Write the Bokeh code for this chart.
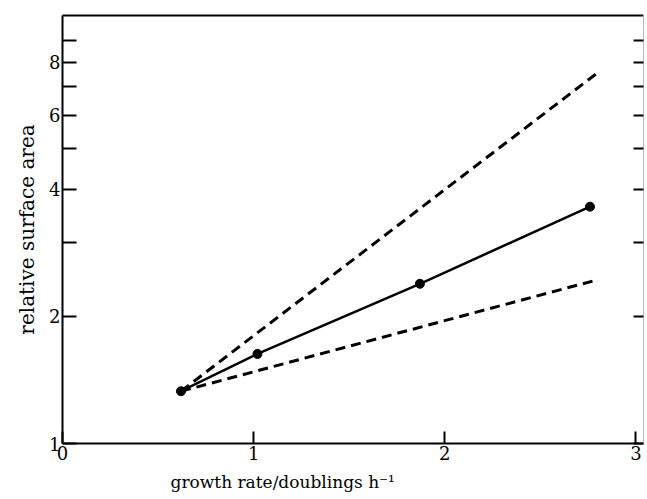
from bokeh.plotting import figure
from bokeh.models import (LogAxis, LinearAxis, FixedTicker, Range1d, Title)
from bokeh.embed import file_html
from bokeh.resources import INLINE

# data
growth = [0.62, 1.02, 1.87, 2.76]
area = [1.33, 1.63, 2.39, 3.64]
upper_x = [0.62, 2.79]
upper_y = [1.33, 7.5]
lower_x = [0.62, 2.78]
lower_y = [1.33, 2.43]
y_labelled = [1, 2, 4, 6, 8]
y_unlabelled = [3, 5, 7, 9]
y_all = [1, 2, 3, 4, 5, 6, 7, 8, 9]
x_ticks = [0, 1, 2, 3]

FONT = "DejaVu Serif"

p = figure(width=647, height=499, output_backend="svg", toolbar_location=None,
           y_axis_type="log", x_range=Range1d(0, 3.04), y_range=Range1d(1, 10.33),
           min_border_left=62, min_border_right=4, min_border_top=15, min_border_bottom=56,
           x_axis_location=None, y_axis_location=None)
p.grid.visible = False
p.outline_line_color = None
p.background_fill_color = "white"
p.border_fill_color = "white"

# left axis
la = LogAxis(ticker=FixedTicker(ticks=y_labelled, minor_ticks=y_unlabelled),
             axis_label="relative surface area")
la.major_tick_in = 14
la.major_tick_out = 0
la.minor_tick_in = 14
la.minor_tick_out = 0
la.axis_line_width = 2
la.major_tick_line_width = 2
la.minor_tick_line_width = 2
la.major_label_text_font = FONT
la.major_label_text_font_size = "18px"
la.major_label_text_color = "black"
la.major_label_standoff = 2
la.axis_label_text_font = FONT
la.axis_label_text_font_size = "20px"
la.axis_label_text_font_style = "normal"
la.axis_label_text_color = "black"
la.axis_label_standoff = 7
p.add_layout(la, "left")

# right axis (ticks only)
ra = LogAxis(ticker=FixedTicker(ticks=[], minor_ticks=y_all))
ra.major_tick_in = 0
ra.major_tick_out = 0
ra.minor_tick_in = 10
ra.minor_tick_out = 0
ra.axis_line_color = "#bbbbbb"
ra.axis_line_width = 1
ra.minor_tick_line_width = 2
ra.minor_tick_line_color = "black"
p.add_layout(ra, "right")

# bottom axis
ba = LinearAxis(ticker=FixedTicker(ticks=x_ticks))
ba.major_tick_in = 12
ba.major_tick_out = 0
ba.minor_tick_in = 0
ba.minor_tick_out = 0
ba.axis_line_width = 2
ba.major_tick_line_width = 2
ba.major_label_text_font = FONT
ba.major_label_text_font_size = "18px"
ba.major_label_text_color = "black"
ba.major_label_standoff = 2
p.add_layout(ba, "below")

# top axis (frame line)
ta = LinearAxis(ticker=FixedTicker(ticks=[]))
ta.major_tick_in = 0
ta.major_tick_out = 0
ta.minor_tick_in = 0
ta.minor_tick_out = 0
ta.axis_line_width = 2
p.add_layout(ta, "above")

# x axis title
xt = Title(text="growth rate/doublings h\u207b\u00b9", align="left", offset=108,
           text_font=FONT, text_font_size="17px", text_font_style="normal",
           text_color="black", standoff=14)
p.add_layout(xt, "below")

# data
p.line(upper_x, upper_y, line_color="black", line_width=3, line_dash="10 6")
p.line(lower_x, lower_y, line_color="black", line_width=3, line_dash="10 6")
p.line(growth, area, line_color="black", line_width=2.5)
p.scatter(growth, area, size=9, color="black")

open("out.html", "w").write(file_html(p, INLINE))
